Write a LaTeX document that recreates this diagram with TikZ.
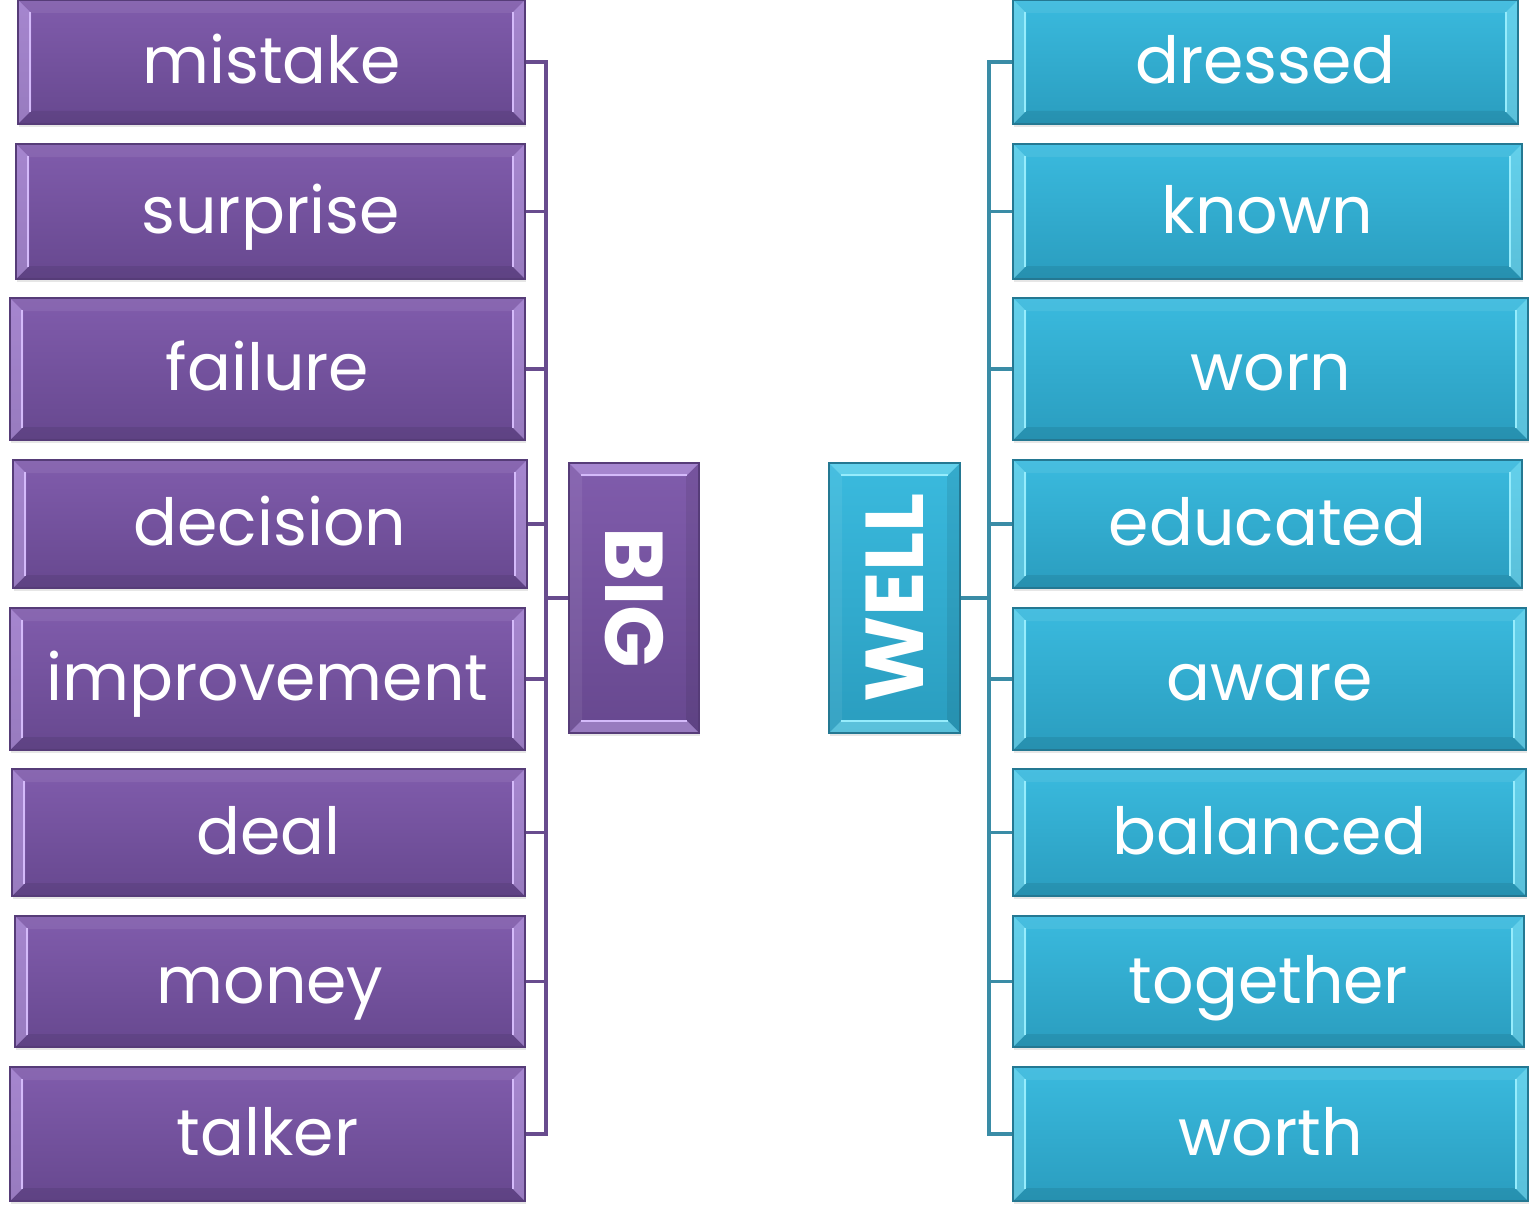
\documentclass[tikz,border=0pt]{standalone}
\usepackage{fontspec}
\setmainfont{Poppins}
\usepackage{graphicx}
\usepackage{tikz}
\usetikzlibrary{calc}
\usetikzlibrary{shadows}
\definecolor{bigtop}{RGB}{128, 92, 172}
\definecolor{bigbot}{RGB}{103, 72, 143}
\definecolor{bigline}{RGB}{86, 60, 120}
\definecolor{bighi}{RGB}{212, 186, 250}
\definecolor{bigwire}{RGB}{104, 76, 142}
\definecolor{welltop}{RGB}{58, 186, 222}
\definecolor{wellbot}{RGB}{42, 157, 191}
\definecolor{wellline}{RGB}{36, 120, 146}
\definecolor{wellhi}{RGB}{150, 236, 252}
\definecolor{wellwire}{RGB}{58, 140, 166}
\newcommand{\wordsize}{\fontsize{65}{70}\selectfont}
\newcommand{\hubsize}{\fontsize{82}{86}\selectfont\bfseries}
\newcommand{\bevelcorners}{%
  \path (path picture bounding box.north west) coordinate (bvnw)
        (path picture bounding box.south east) coordinate (bvse);}
\newcommand{\widebevel}[1]{%
  \bevelcorners
  \fill[white, opacity=.07] (bvnw) -- (bvnw-|bvse) -- ++(-13pt,-13pt) -- ($(bvnw)+(13pt,-13pt)$) -- cycle;
  \fill[black, opacity=.08] (bvnw|-bvse) -- (bvse) -- ++(-13pt,13pt) -- ($(bvnw|-bvse)+(13pt,13pt)$) -- cycle;
  \fill[#1, opacity=.45]    (bvnw) -- ++(13pt,-13pt) -- ($(bvnw|-bvse)+(13pt,13pt)$) -- (bvnw|-bvse) -- cycle;
  \fill[#1, opacity=.45]    (bvnw-|bvse) -- ++(-13pt,-13pt) -- ($(bvse)+(-13pt,13pt)$) -- (bvse) -- cycle;
  \draw[#1, line width=2pt] ($(bvnw)+(12pt,-12pt)$) -- ($(bvnw|-bvse)+(12pt,12pt)$);
  \draw[#1, line width=2pt] ($(bvnw-|bvse)+(-12pt,-12pt)$) -- ($(bvse)+(-12pt,12pt)$);}
\newcommand{\tallbevel}[1]{%
  \bevelcorners
  \fill[white, opacity=.07] (bvnw) -- ++(13pt,-13pt) -- ($(bvnw|-bvse)+(13pt,13pt)$) -- (bvnw|-bvse) -- cycle;
  \fill[black, opacity=.08] (bvnw-|bvse) -- ++(-13pt,-13pt) -- ($(bvse)+(-13pt,13pt)$) -- (bvse) -- cycle;
  \fill[#1, opacity=.45]    (bvnw) -- (bvnw-|bvse) -- ++(-13pt,-13pt) -- ($(bvnw)+(13pt,-13pt)$) -- cycle;
  \fill[#1, opacity=.45]    (bvnw|-bvse) -- (bvse) -- ++(-13pt,13pt) -- ($(bvnw|-bvse)+(13pt,13pt)$) -- cycle;
  \draw[#1, line width=2pt] ($(bvnw)+(12pt,-12pt)$) -- ($(bvnw-|bvse)+(-12pt,-12pt)$);
  \draw[#1, line width=2pt] ($(bvnw|-bvse)+(12pt,12pt)$) -- ($(bvse)+(-12pt,12pt)$);}
\tikzset{
  boxbase/.style={rectangle, line width=1.6pt, inner sep=0pt, text=white,
                  drop shadow={opacity=.2, shadow xshift=1pt, shadow yshift=-3pt}},
  bigword/.style={boxbase, draw=bigline, top color=bigtop, bottom color=bigbot,
                  font=\wordsize, text height=43pt, text depth=0pt, path picture={\widebevel{bighi}}},
  wellword/.style={boxbase, draw=wellline, top color=welltop, bottom color=wellbot,
                  font=\wordsize, text height=43pt, text depth=0pt, path picture={\widebevel{wellhi}}},
  bighub/.style={boxbase, draw=bigline, top color=bigtop, bottom color=bigbot,
                  font=\hubsize, path picture={\tallbevel{bighi}}},
  wellhub/.style={boxbase, draw=wellline, top color=welltop, bottom color=wellbot,
                  font=\hubsize, path picture={\tallbevel{wellhi}}},
  bigwire/.style={draw=bigwire, line width=3.5pt},
  wellwire/.style={draw=wellwire, line width=3.5pt},
}

\begin{document}
\begin{tikzpicture}[x=1pt, y=-1pt]
    \useasboundingbox (0,0) rectangle (1536,1220);
    \node[bigword,  minimum width=507, minimum height=124] (mistake)     at ( 271.5,   62.0) {mistake};
    \node[bigword,  minimum width=509, minimum height=135] (surprise)    at ( 270.5,  211.5) {surprise};
    \node[bigword,  minimum width=515, minimum height=142] (failure)     at ( 267.5,  369.0) {failure};
    \node[bigword,  minimum width=514, minimum height=128] (decision)    at ( 270.0,  524.0) {decision};
    \node[bigword,  minimum width=515, minimum height=142] (improvement) at ( 267.5,  679.0) {improvement};
    \node[bigword,  minimum width=513, minimum height=127] (deal)        at ( 268.5,  832.5) {deal};
    \node[bigword,  minimum width=510, minimum height=131] (money)       at ( 270.0,  981.5) {money};
    \node[bigword,  minimum width=515, minimum height=134] (talker)      at ( 267.5, 1134.0) {talker};
    \node[bighub,   minimum width=130, minimum height=270] (big)         at ( 634.0,  598.0) {\rotatebox{-90}{BIG}};
    \node[wellhub,  minimum width=131, minimum height=270] (well)        at ( 894.5,  598.0) {\rotatebox{90}{WELL}};
    \node[wellword, minimum width=505, minimum height=124] (dressed)     at (1265.5,   62.0) {dressed};
    \node[wellword, minimum width=509, minimum height=135] (known)       at (1267.5,  211.5) {known};
    \node[wellword, minimum width=515, minimum height=142] (worn)        at (1270.5,  369.0) {worn};
    \node[wellword, minimum width=509, minimum height=128] (educated)    at (1267.5,  524.0) {educated};
    \node[wellword, minimum width=513, minimum height=142] (aware)       at (1269.5,  679.0) {aware};
    \node[wellword, minimum width=513, minimum height=127] (balanced)    at (1269.5,  832.5) {balanced};
    \node[wellword, minimum width=511, minimum height=131] (together)    at (1268.5,  981.5) {together};
    \node[wellword, minimum width=515, minimum height=134] (worth)       at (1270.5, 1134.0) {worth};
    \draw[bigwire]  (big.west)          -- ++(-22,0) coordinate (bighub);
    \draw[bigwire]  (mistake.east)      -| (bighub);
    \draw[bigwire]  (surprise.east)     -| (bighub);
    \draw[bigwire]  (failure.east)      -| (bighub);
    \draw[bigwire]  (decision.east)     -| (bighub);
    \draw[bigwire]  (improvement.east)  -| (bighub);
    \draw[bigwire]  (deal.east)         -| (bighub);
    \draw[bigwire]  (money.east)        -| (bighub);
    \draw[bigwire]  (talker.east)       -| (bighub);
    \draw[wellwire] (well.east)         -- ++(28,0) coordinate (wellhub);
    \draw[wellwire] (dressed.west)      -| (wellhub);
    \draw[wellwire] (known.west)        -| (wellhub);
    \draw[wellwire] (worn.west)         -| (wellhub);
    \draw[wellwire] (educated.west)     -| (wellhub);
    \draw[wellwire] (aware.west)        -| (wellhub);
    \draw[wellwire] (balanced.west)     -| (wellhub);
    \draw[wellwire] (together.west)     -| (wellhub);
    \draw[wellwire] (worth.west)        -| (wellhub);
\end{tikzpicture}
\end{document}
